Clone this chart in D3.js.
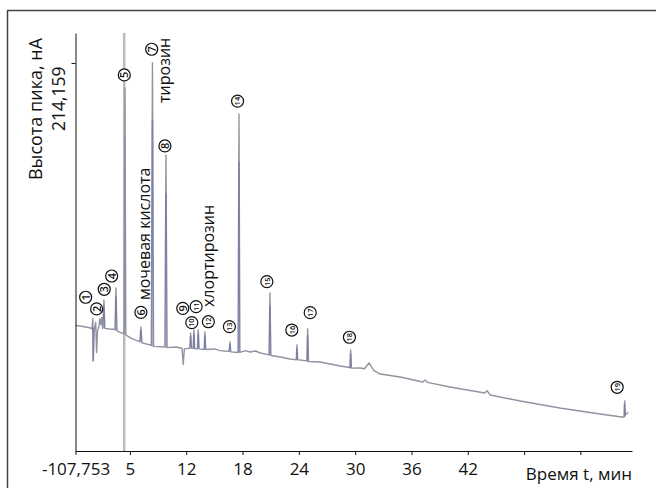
<!DOCTYPE html>
<html>
<head>
<meta charset="utf-8">
<script src="https://cdn.jsdelivr.net/npm/d3@7"></script>
<style>
html, body { margin: 0; padding: 0; background: #fff; }
svg { display: block; font-family: "Open Sans", "Noto Sans", sans-serif; }
</style>
</head>
<body>
<svg id="chart"></svg>
<script>
/* chromatogram: peak height (nA) vs retention time (min) */

var xTickValues = [0.2, 6, 12, 18, 24, 30, 36, 42, 48, 54];
var xTickLabels = ['-107,753', '5', '12', '18', '24', '30', '36', '42', '', ''];
var yTickValues = [214.159];
var yTickLabels = ['214,159'];
var xDomain = [0.2, 59.5];
var yDomain = [-107.753, 239.0];

// trace: [time, height]
var trace = [
  [0.2, -3.5], [1.0, -4.5], [1.7, -5.5], [1.95, -6.5],
  [2.05, 2.0], [2.10, -33], [2.20, -7], [2.35, -1], [2.45, -26], [2.55, -8],
  [2.70, -4], [2.80, 2], [2.90, -3], [3.00, 3], [3.10, -6],
  [3.23, 17.5], [3.33, -6], [3.80, -6.5], [4.40, -7],
  [4.51, 27.5], [4.62, -8], [5.00, -9.5], [5.38, -10.5],
  [5.47, 193.4], [5.56, -11.5], [6.20, -14.5], [7.05, -17],
  [7.17, -4.9], [7.29, -18], [8.28, -20],
  [8.40, 214.159], [8.52, -21], [9.72, -21.5],
  [9.84, 137.8], [9.96, -22], [10.9, -21.5], [11.55, -22.5],
  [11.68, -36], [11.80, -23], [12.38, -22.5],
  [12.47, -9.9], [12.56, -22.5], [12.73, -22.5],
  [12.82, -7.4], [12.91, -23], [13.19, -23],
  [13.28, -7.4], [13.37, -23], [13.90, -23.5],
  [13.99, -9], [14.08, -23.5], [15.06, -23.1], [15.6, -24.5], [16.1, -24.8], [16.57, -25],
  [16.66, -17.3], [16.75, -25.5], [17.52, -26],
  [17.62, 171.8], [17.72, -26], [18.3, -24.5], [18.8, -25.6], [19.4, -24.8], [19.9, -26.5], [20.82, -28],
  [20.92, 23.3], [21.02, -28.5], [22.0, -29.8], [23.06, -31.4], [23.72, -32],
  [23.80, -19.8], [23.88, -32], [24.85, -33],
  [24.94, -6.5], [25.03, -33.5], [26.25, -33.9], [28.4, -37.2], [29.44, -38.5],
  [29.52, -24], [29.60, -39], [30.5, -38.9], [31.0, -39.5],
  [31.47, -34.7], [32.0, -41], [32.66, -43.9], [34.8, -46.4], [37.2, -50.5],
  [37.44, -48.8], [37.7, -50.8], [40.1, -54.7], [43.8, -59.6],
  [44.05, -57.8], [44.4, -61.3], [47.6, -66.3], [51.8, -72.1], [56.1, -77.1], [58.4, -79.5],
  [58.65, -79.5], [58.72, -66.3], [58.80, -78], [59.1, -75.5]
];

var markerTime = 5.39; // grey vertical line through peak 5

var peakNumbers = [1, 2, 3, 4, 5, 6, 7, 8, 9, 10, 11, 12, 13, 14, 15, 16, 17, 18, 19];
var peakLabelT = [1.28, 2.45, 3.26, 4.05, 5.40, 7.17, 8.32, 9.73, 11.63, 12.59, 13.05, 14.36, 16.60, 17.47, 20.59, 23.25, 25.21, 29.39, 57.92];
var peakLabelV = [19.8, 10.1, 26.4, 37.4, 204.2, 7.3, 225.5, 145.3, 10.6, -1.3, 12.0, -0.5, -4.6, 182.5, 32.7, -7.4, 7.0, -13.4, -54.9];

var compoundNames = ['мочевая кислота', 'тирозин', 'хлортирозин'];
var compoundT = [8.19, 10.32, 14.96];
var compoundV = [17.5, 181.0, 11.7];

var yTitle = 'Высота пика, нА';
var xTitle = 'Время t, мин';

var W = 656, H = 488;
var svg = d3.select('#chart').attr('width', W).attr('height', H);

var x = d3.scaleLinear().domain(xDomain).range([75.5, 632]);
var y = d3.scaleLinear().domain(yDomain).range([451, 33]);

// outer frame (top and left edges only are inside the picture)
svg.append('line').attr('x1', 7).attr('x2', W).attr('y1', 10.5).attr('y2', 10.5)
  .attr('stroke', '#444').attr('stroke-width', 1.5);
svg.append('line').attr('x1', 7.5).attr('x2', 7.5).attr('y1', 10).attr('y2', H)
  .attr('stroke', '#444').attr('stroke-width', 1.5);

// grey marker line
svg.append('line')
  .attr('x1', x(markerTime)).attr('x2', x(markerTime))
  .attr('y1', y(yDomain[1])).attr('y2', y(yDomain[0]))
  .attr('stroke', '#bcbcbc').attr('stroke-width', 2.5);

// trace
var line = d3.line().x(function(d) { return x(d[0]); }).y(function(d) { return y(d[1]); });
svg.append('path')
  .datum(trace)
  .attr('d', line)
  .attr('fill', 'none')
  .attr('stroke', '#9194a0')
  .attr('stroke-width', 1.4)
  .attr('stroke-linejoin', 'round');

// purple cores on peaks (local maxima of the trace)
var peakCores = trace.filter(function(d, i) {
  if (i === 0 || i === trace.length - 1) return false;
  return d[1] > trace[i - 1][1] + 6 && d[1] > trace[i + 1][1] + 6;
}).map(function(d) {
  var i = trace.indexOf(d);
  return [d[0], d[1], Math.min(trace[i - 1][1], trace[i + 1][1])];
});
svg.selectAll('.core')
  .data(peakCores)
  .enter().append('line')
  .attr('class', 'core')
  .attr('x1', function(d) { return x(d[0]); })
  .attr('x2', function(d) { return x(d[0]); })
  .attr('y1', function(d) { return y(d[1]) + (y(d[2]) - y(d[1])) * 0.2; })
  .attr('y2', function(d) { return y(d[2]); })
  .attr('stroke', '#6a6aae')
  .attr('stroke-opacity', function(d) { return Math.abs(d[0] - markerTime) < 0.2 ? 0.15 : 0.5; })
  .attr('stroke-width', 1.8);

// axes
var xAxis = d3.axisBottom(x)
  .tickValues(xTickValues)
  .tickFormat(function(d, i) { return xTickLabels[i]; })
  .tickSize(4).tickSizeOuter(0).tickPadding(8);
var gx = svg.append('g').attr('transform', 'translate(0,451)').call(xAxis);
gx.selectAll('text').attr('font-size', 17).attr('fill', '#111').attr('font-family', '"Open Sans", sans-serif');
gx.select('.domain').attr('stroke', '#111');
gx.selectAll('.tick line').attr('stroke', '#111');

var yAxis = d3.axisLeft(y)
  .tickValues(yTickValues)
  .tickFormat('')
  .tickSize(4).tickSizeOuter(0);
var gy = svg.append('g').attr('transform', 'translate(75.5,0)').call(yAxis);
gy.select('.domain').attr('stroke', '#111');
gy.selectAll('.tick line').attr('stroke', '#111');

svg.append('text')
  .attr('transform', 'translate(65,' + (y(yTickValues[0]) + 3.5) + ') rotate(-90)')
  .attr('text-anchor', 'end')
  .attr('font-size', 17.5)
  .attr('fill', '#111')
  .text(yTickLabels[0]);

svg.append('text')
  .attr('transform', 'translate(41.5,109) rotate(-90)')
  .attr('text-anchor', 'middle')
  .attr('font-size', 18)
  .attr('fill', '#111')
  .text(yTitle);

svg.append('text')
  .attr('x', 632).attr('y', 479.5)
  .attr('text-anchor', 'end')
  .attr('font-size', 17)
  .attr('fill', '#111')
  .text(xTitle);

// compound names
svg.selectAll('.compound')
  .data(compoundNames)
  .enter().append('text')
  .attr('class', 'compound')
  .attr('transform', function(d, i) {
    return 'translate(' + x(compoundT[i]) + ',' + y(compoundV[i]) + ') rotate(-90)';
  })
  .attr('font-size', 16)
  .attr('fill', '#111')
  .text(function(d) { return d; });

// numbered peak circles
var marks = svg.selectAll('.peak-num')
  .data(peakNumbers)
  .enter().append('g')
  .attr('class', 'peak-num')
  .attr('transform', function(d, i) {
    return 'translate(' + x(peakLabelT[i]) + ',' + y(peakLabelV[i]) + ')';
  });
marks.append('circle')
  .attr('r', 6)
  .attr('fill', '#fff')
  .attr('stroke', '#111')
  .attr('stroke-width', 1.2);
marks.append('text')
  .attr('transform', 'rotate(-90)')
  .attr('text-anchor', 'middle')
  .attr('dy', '0.36em')
  .attr('font-size', function(d) { return d > 9 ? 7.5 : 11; })
  .attr('font-weight', 600)
  .attr('fill', '#111')
  .text(function(d) { return d; });
</script>
</body>
</html>
